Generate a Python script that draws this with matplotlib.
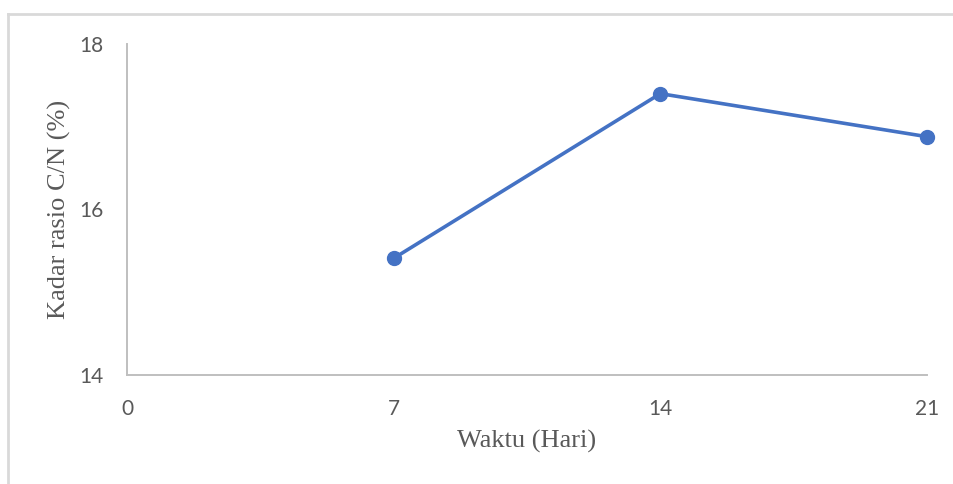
import matplotlib.pyplot as plt
from matplotlib.lines import Line2D

# sampling days and C/N ratio
hari = [7, 14, 21]
rasio_cn = [15.41, 17.40, 16.88]
x_ticks = [0, 7, 14, 21]
y_ticks = [14, 16, 18]

fig = plt.figure(figsize=(9.54, 4.84), dpi=100)
ax = fig.add_axes([0.1331, 0.2252, 0.8386, 0.6839])

ax.plot(hari, rasio_cn, color='#4472C4', linewidth=2.6, marker='o',
        markersize=10, solid_capstyle='round', zorder=3, clip_on=False)

ax.set_xlim(0, 21)
ax.set_ylim(14, 18)
ax.set_xticks(x_ticks)
ax.set_yticks(y_ticks)

for side in ['top', 'right']:
    ax.spines[side].set_visible(False)
for side in ['left', 'bottom']:
    ax.spines[side].set_color('#BFBFBF')
    ax.spines[side].set_linewidth(1.4)

ax.tick_params(length=0, labelsize=15, labelcolor='#595959')
ax.tick_params(axis='y', pad=17)
ax.tick_params(axis='x', pad=17)
for lbl in ax.get_xticklabels() + ax.get_yticklabels():
    lbl.set_fontfamily('Lato')

ax.set_xlabel('Waktu (Hari)', fontsize=19, family='Liberation Serif',
              color='#595959', labelpad=8)
ax.set_ylabel('Kadar rasio C/N (%)', fontsize=19, family='Liberation Serif',
              color='#595959', labelpad=6)

# chart frame (top and left edges)
fig.add_artist(Line2D([8 / 954, 1], [1 - 14 / 484, 1 - 14 / 484],
                      transform=fig.transFigure, color='#D9D9D9', linewidth=2))
fig.add_artist(Line2D([8 / 954, 8 / 954], [0, 1 - 14 / 484],
                      transform=fig.transFigure, color='#D9D9D9', linewidth=2))

fig.savefig('out.png', dpi=100)
